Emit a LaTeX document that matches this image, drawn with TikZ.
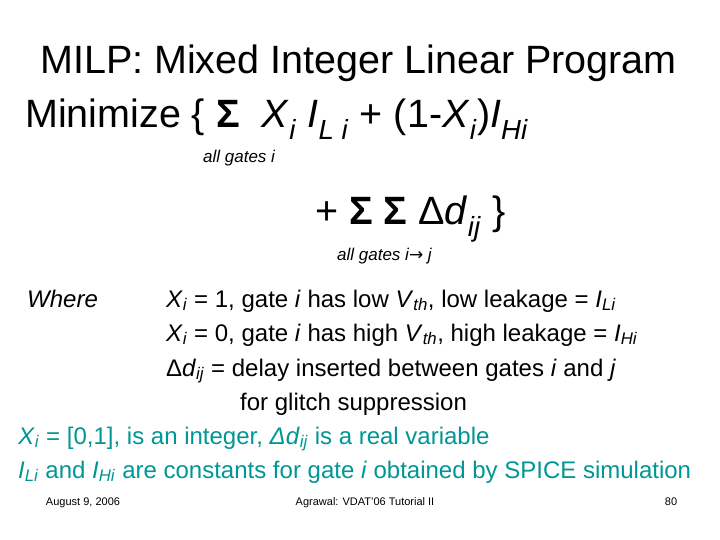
\documentclass[tikz,border=0pt]{standalone}
\usepackage{fontspec}
\setmainfont{Liberation Sans}
\newfontfamily\djv{DejaVu Sans}
\definecolor{teal1}{RGB}{0,150,150}
\begin{document}
\begin{tikzpicture}[x=1pt,y=-1pt,
  big/.style={anchor=base west,inner sep=0pt,font=\fontsize{39.5}{44}\selectfont},
  body/.style={anchor=base west,inner sep=0pt,font=\fontsize{24}{28}\selectfont},
  small/.style={anchor=base west,inner sep=0pt,font=\fontsize{17}{19}\selectfont\itshape},
  foot/.style={anchor=base,inner sep=0pt,font=\fontsize{11}{13}\selectfont}]
\useasboundingbox[fill=white] (0,0) rectangle (720,540);
\node[big] (t1) at (40,74) {MILP: Mixed Integer Linear Program};
\node[big] (t2) at (25,128) {Minimize \{ \textbf{Σ}\ \ \textit{X}\textsubscript{\textit{i}} \textit{I}\textsubscript{\textit{L i}} + (1-\textit{X}\textsubscript{\textit{i}})\textit{I}\textsubscript{\textit{Hi}}};
\node[small] (s1) at (203,163) {all gates i};
\node[big] (t3) at (315,225) {+ \textbf{Σ Σ} Δ\textit{d}\textsubscript{\textit{ij}} \}};
\node[small] (s2) at (337,260) {all gates i{\djv →} j};
\node[body] (w) at (27,307) {\textit{Where}};
\node[body] (l1) at (166,307) {\textit{X}\textsubscript{\textit{i}} = 1, gate \textit{i} has low \textit{V}\textsubscript{\textit{th}}, low leakage = \textit{I}\textsubscript{\textit{Li}}};
\node[body] (l2) at (166,341) {\textit{X}\textsubscript{\textit{i}} = 0, gate \textit{i} has high \textit{V}\textsubscript{\textit{th}}, high leakage = \textit{I}\textsubscript{\textit{Hi}}};
\node[body] (l3) at (166,376) {Δ\textit{d}\textsubscript{\textit{ij}} = delay inserted between gates \textit{i} and \textit{j}};
\node[body] (l4) at (240,410) {for glitch suppression};
\node[body,text=teal1] (l5) at (18,444) {\textit{X}\textsubscript{\textit{i}} = [0,1], is an integer, \textit{Δd}\textsubscript{\textit{ij}} is a real variable};
\node[body,text=teal1] (l6) at (18,478) {\textit{I}\textsubscript{\textit{Li}} and \textit{I}\textsubscript{\textit{Hi}} are constants for gate \textit{i} obtained by SPICE simulation};
\node[foot] (f1) at (83,505) {August 9, 2006};
\node[foot] (f2) at (365,505) {Agrawal: VDAT'06 Tutorial II};
\node[foot] (f3) at (671,505) {80};
\end{tikzpicture}
\end{document}
